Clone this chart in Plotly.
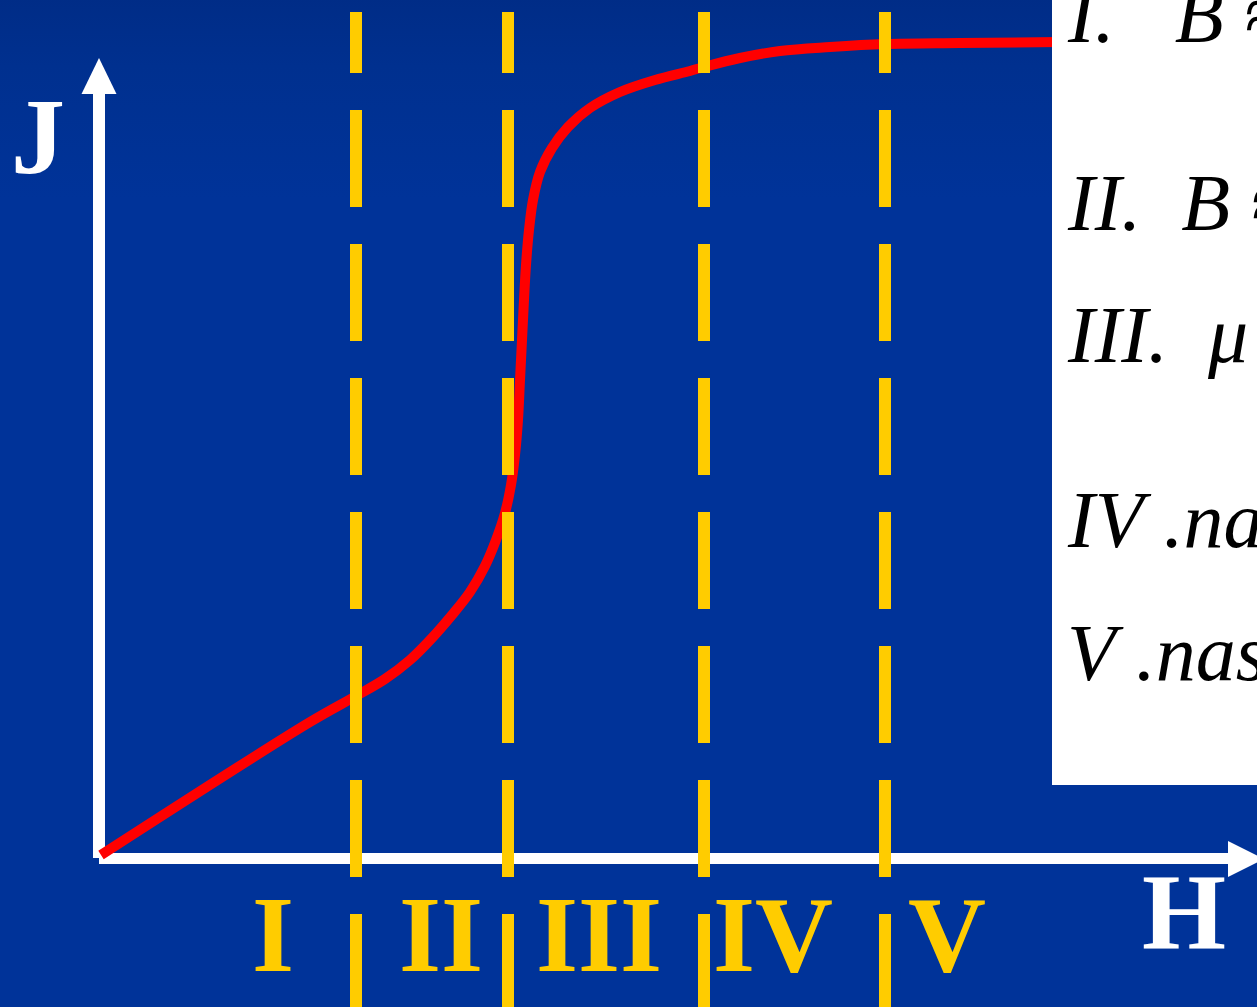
import plotly.graph_objects as go

# Magnetisation curve J(H), arbitrary units
H = [0.02, 2.11, 2.57, 2.86, 3.11, 3.33, 3.53, 3.71, 3.86, 3.97, 4.06, 4.12,
     4.16, 4.19, 4.21, 4.23, 4.25, 4.27, 4.30, 4.34, 4.41, 4.53, 4.69, 4.91,
     5.21, 5.56, 5.91, 6.05, 6.41, 6.81, 7.31, 7.86, 8.61, 9.61]
J = [0.035, 1.365, 1.625, 1.795, 1.985, 2.205, 2.435, 2.665, 2.925, 3.185,
     3.455, 3.735, 4.035, 4.385, 4.785, 5.185, 5.585, 5.935, 6.285, 6.585,
     6.865, 7.105, 7.315, 7.505, 7.665, 7.785, 7.875, 7.915, 8.005, 8.075,
     8.115, 8.145, 8.155, 8.165]

# Region boundaries on the H axis and the region labels
region_bounds = [2.57, 4.09, 6.05, 7.86]
region_names = ["I", "II", "III", "IV", "V"]
region_label_H = [1.74, 3.42, 5.00, 6.74, 8.48]

# Description panel lines and their vertical positions
panel_lines = ["I.\u00a0\u00a0\u00a0B\u00a0≈", "II.\u00a0\u00a0B\u00a0≈", "III.\u00a0\u00a0μ",
               "IV\u00a0.na", "V\u00a0.nas"]
panel_J = [8.435, 6.555, 5.235, 3.385, 2.055]

X_RANGE = [-0.99, 11.58]
Y_RANGE = [-1.485, 8.585]

BLUE = "#003399"
YELLOW = "#FFCC00"
SERIF = "Liberation Serif, Times New Roman, serif"

fig = go.Figure()

# darker band along the top of the background
fig.add_trace(go.Scatter(
    x=[-2, 13, 13, -2], y=[6.6, 6.6, 9, 9], mode="none", fill="toself",
    fillgradient=dict(type="vertical",
                      colorscale=[[0, BLUE], [0.55, "#00308f"], [1, "#002a82"]]),
    hoverinfo="skip", showlegend=False))

# coordinate axes with arrowheads
fig.add_trace(go.Scatter(x=[0, 0], y=[0.005, 7.65], mode="lines",
                         line=dict(color="white", width=12),
                         hoverinfo="skip", showlegend=False))
fig.add_trace(go.Scatter(x=[0, 11.3], y=[0, 0], mode="lines",
                         line=dict(color="white", width=11),
                         hoverinfo="skip", showlegend=False))
fig.add_trace(go.Scatter(x=[-0.175, 0.175, 0], y=[7.645, 7.645, 8.005],
                         mode="none", fill="toself", fillcolor="white",
                         hoverinfo="skip", showlegend=False))
fig.add_trace(go.Scatter(x=[11.29, 11.29, 11.65], y=[0.175, -0.185, -0.005],
                         mode="none", fill="toself", fillcolor="white",
                         hoverinfo="skip", showlegend=False))

# J(H) curve
fig.add_trace(go.Scatter(x=H, y=J, mode="lines",
                         line=dict(color="#FF0000", width=10, shape="spline", smoothing=1.0),
                         hoverinfo="skip", showlegend=False))

shapes = []
for hb in region_bounds:
    shapes.append(dict(type="line", xref="x", yref="y", x0=hb, x1=hb,
                       y0=-1.525, y1=8.465, layer="above",
                       line=dict(color=YELLOW, width=12, dash="97px,37px")))
shapes.append(dict(type="rect", xref="x", yref="y", x0=9.53, x1=12.5,
                   y0=0.735, y1=9.5, layer="above",
                   fillcolor="white", line=dict(width=0)))

annotations = []
for name, hx in zip(region_names, region_label_H):
    annotations.append(dict(x=hx, y=-0.76, xref="x", yref="y", text=name,
                            showarrow=False, xanchor="center", yanchor="middle",
                            font=dict(family=SERIF, size=108, color=YELLOW, weight="bold")))
annotations.append(dict(x=-0.61, y=7.22, xref="x", yref="y", text="J",
                        showarrow=False, xanchor="center", yanchor="middle",
                        font=dict(family=SERIF, size=108, color="white", weight="bold")))
annotations.append(dict(x=10.85, y=-0.54, xref="x", yref="y", text="H",
                        showarrow=False, xanchor="center", yanchor="middle",
                        font=dict(family=SERIF, size=108, color="white", weight="bold")))
for line, jy in zip(panel_lines, panel_J):
    annotations.append(dict(x=9.66, y=jy, xref="x", yref="y", text=line,
                            showarrow=False, xanchor="left", yanchor="middle",
                            font=dict(family=SERIF, size=80, color="black", style="italic")))

fig.update_layout(
    width=1257, height=1007,
    margin=dict(l=0, r=0, t=0, b=0),
    paper_bgcolor=BLUE, plot_bgcolor=BLUE,
    xaxis=dict(range=X_RANGE, visible=False, fixedrange=True),
    yaxis=dict(range=Y_RANGE, visible=False, fixedrange=True),
    shapes=shapes, annotations=annotations,
    showlegend=False,
)

fig.write_html("out.html")
